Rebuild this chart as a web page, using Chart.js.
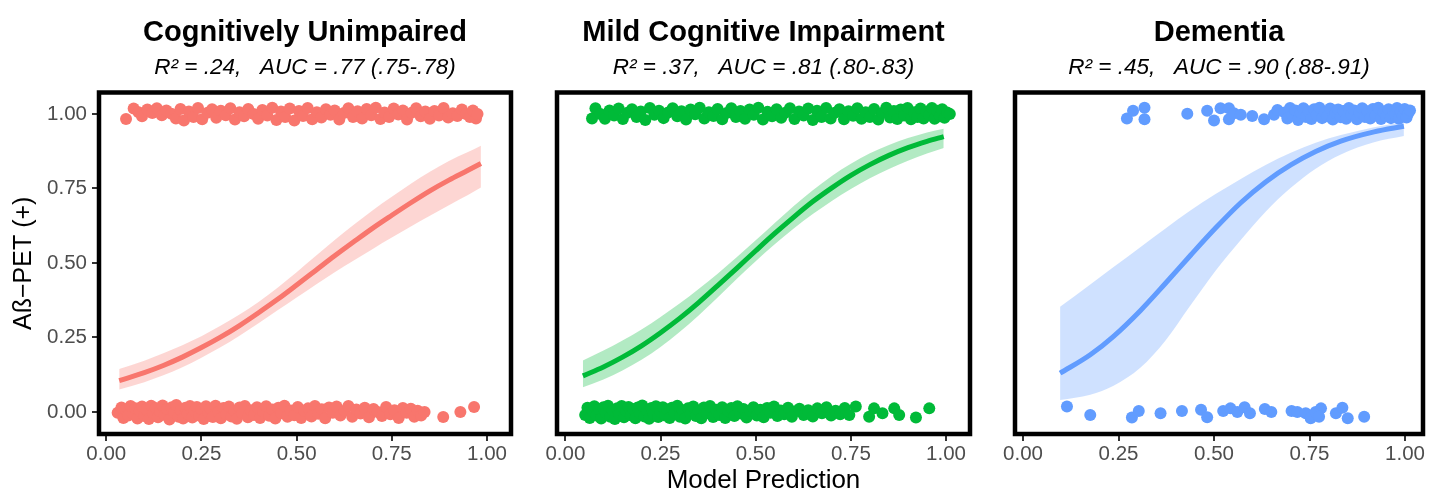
<!DOCTYPE html>
<html lang="en">
<head>
<meta charset="UTF-8">
<title>Model prediction vs amyloid PET</title>
<script src="https://cdn.jsdelivr.net/npm/chart.js"></script>
<style>
  body { margin: 0; background: #fff; }
  #wrap { position: relative; width: 1429px; height: 494px; }
  canvas { position: absolute; top: 0; }
</style>
</head>
<body>
<div id="wrap">
  <canvas id="cu" width="530" height="494" style="left:0"></canvas>
  <canvas id="mci" width="460" height="494" style="left:530px"></canvas>
  <canvas id="dem" width="439" height="494" style="left:990px"></canvas>
</div>

<script>
  const FONT = '"Liberation Sans", Arial, sans-serif';

  const xTicks = [0, 0.25, 0.5, 0.75, 1];
  const yTicks = [0, 0.25, 0.5, 0.75, 1];

  const panelTitles = ['Cognitively Unimpaired', 'Mild Cognitive Impairment', 'Dementia'];
  const panelStats = [
    'R² = .24,   AUC = .77 (.75-.78)',
    'R² = .37,   AUC = .81 (.80-.83)',
    'R² = .45,   AUC = .90 (.88-.91)'
  ];

  // Cognitively unimpaired: fitted curve + 95% band
  const cuFitX  = [0.034, 0.1, 0.15, 0.2, 0.25, 0.3, 0.35, 0.4, 0.45, 0.5, 0.55, 0.6, 0.65, 0.7, 0.75, 0.8, 0.85, 0.9, 0.95, 0.984];
  const cuFit   = [0.105, 0.132, 0.156, 0.184, 0.216, 0.251, 0.290, 0.333, 0.378, 0.426, 0.475, 0.524, 0.571, 0.617, 0.660, 0.702, 0.742, 0.778, 0.811, 0.834];
  const cuUpper = [0.144, 0.172, 0.197, 0.224, 0.254, 0.289, 0.327, 0.369, 0.417, 0.469, 0.523, 0.577, 0.628, 0.677, 0.722, 0.766, 0.806, 0.842, 0.872, 0.893];
  const cuLower = [0.075, 0.100, 0.123, 0.150, 0.182, 0.217, 0.256, 0.298, 0.341, 0.384, 0.427, 0.469, 0.508, 0.547, 0.585, 0.622, 0.658, 0.694, 0.728, 0.753];
  const cuPos = [[0.052,0.983],[0.072,1.018],[0.085,1.006],[0.094,0.992],[0.108,1.015],[0.121,1.003],[0.133,1.019],[0.146,0.996],[0.158,1.012],[0.171,1.001],[0.183,0.985],[0.195,1.017],[0.204,0.978],[0.217,1.008],[0.229,0.99],[0.241,1.02],[0.252,0.982],[0.266,1.004],[0.278,1.016],[0.289,0.987],[0.301,1.011],[0.314,0.996],[0.326,1.019],[0.338,0.981],[0.35,1.006],[0.362,0.992],[0.373,1.017],[0.387,1.0],[0.399,0.984],[0.41,1.013],[0.423,0.995],[0.436,1.021],[0.447,0.98],[0.459,1.008],[0.47,0.99],[0.482,1.018],[0.494,0.978],[0.506,1.01],[0.517,0.993],[0.529,1.02],[0.541,0.982],[0.553,1.006],[0.565,0.988],[0.577,1.016],[0.589,0.997],[0.6,1.012],[0.612,0.981],[0.624,1.003],[0.636,1.019],[0.648,0.99],[0.66,1.009],[0.672,0.985],[0.684,1.017],[0.696,0.996],[0.708,1.021],[0.72,0.983],[0.731,1.005],[0.743,0.99],[0.755,1.018],[0.767,0.998],[0.779,1.012],[0.79,0.981],[0.802,1.004],[0.814,1.019],[0.826,0.992],[0.838,1.008],[0.85,0.984],[0.862,1.01],[0.874,0.995],[0.886,1.02],[0.898,0.988],[0.91,1.002],[0.922,0.993],[0.934,1.015],[0.945,1.0],[0.955,0.99],[0.963,1.012],[0.971,0.985],[0.975,1.0]];
  const cuNeg = [[0.03,-0.003],[0.04,0.015],[0.045,-0.02],[0.052,0.006],[0.058,-0.012],[0.064,0.02],[0.07,-0.005],[0.076,0.012],[0.082,-0.022],[0.088,0.003],[0.094,0.018],[0.1,-0.014],[0.106,0.008],[0.112,-0.024],[0.118,0.021],[0.124,-0.004],[0.13,0.013],[0.136,-0.018],[0.142,0.002],[0.148,0.022],[0.154,-0.01],[0.16,0.009],[0.166,-0.025],[0.172,0.016],[0.178,-0.002],[0.184,0.023],[0.19,-0.016],[0.196,0.005],[0.202,-0.022],[0.208,0.014],[0.214,-0.006],[0.22,0.02],[0.226,-0.019],[0.232,0.003],[0.238,0.017],[0.244,-0.012],[0.25,0.008],[0.256,-0.024],[0.262,0.019],[0.268,-0.003],[0.274,0.011],[0.28,-0.017],[0.287,0.021],[0.294,0.0],[0.301,-0.021],[0.308,0.013],[0.315,-0.008],[0.322,0.018],[0.329,-0.015],[0.336,0.004],[0.343,-0.023],[0.35,0.015],[0.357,-0.004],[0.364,0.02],[0.372,-0.018],[0.38,0.006],[0.388,-0.01],[0.396,0.016],[0.404,-0.02],[0.412,0.002],[0.42,0.019],[0.428,-0.013],[0.436,0.008],[0.444,-0.022],[0.452,0.014],[0.46,-0.004],[0.468,0.021],[0.476,-0.016],[0.485,0.005],[0.494,-0.011],[0.503,0.017],[0.512,-0.02],[0.521,0.003],[0.53,0.012],[0.539,-0.015],[0.548,0.02],[0.557,-0.006],[0.566,0.009],[0.575,-0.021],[0.585,0.015],[0.595,-0.003],[0.605,0.018],[0.615,-0.012],[0.626,0.004],[0.636,0.02],[0.646,-0.016],[0.657,0.008],[0.668,-0.005],[0.679,0.014],[0.69,-0.018],[0.702,0.01],[0.713,0.0],[0.724,-0.014],[0.735,0.017],[0.746,-0.008],[0.757,0.006],[0.768,-0.02],[0.779,0.013],[0.789,-0.003],[0.8,0.011],[0.809,-0.016],[0.818,0.004],[0.827,-0.012],[0.836,0.0],[0.885,-0.017],[0.93,0.0],[0.966,0.017]];

  // Mild cognitive impairment
  const mciFitX  = [0.046, 0.1, 0.15, 0.2, 0.25, 0.3, 0.35, 0.4, 0.45, 0.5, 0.55, 0.6, 0.65, 0.7, 0.75, 0.8, 0.85, 0.9, 0.95, 0.994];
  const mciFit   = [0.121, 0.151, 0.184, 0.222, 0.266, 0.314, 0.367, 0.424, 0.482, 0.541, 0.599, 0.654, 0.706, 0.752, 0.794, 0.830, 0.861, 0.887, 0.908, 0.924];
  const mciUpper = [0.173, 0.206, 0.240, 0.277, 0.319, 0.364, 0.413, 0.464, 0.519, 0.576, 0.634, 0.691, 0.744, 0.792, 0.833, 0.868, 0.896, 0.919, 0.938, 0.950];
  const mciLower = [0.083, 0.109, 0.139, 0.175, 0.218, 0.268, 0.324, 0.384, 0.446, 0.506, 0.563, 0.616, 0.664, 0.708, 0.748, 0.784, 0.815, 0.843, 0.867, 0.886];
  const mciPos = [[0.07,0.985],[0.079,1.019],[0.092,1.0],[0.104,0.984],[0.116,1.012],[0.128,0.995],[0.14,1.018],[0.151,0.983],[0.163,1.004],[0.175,1.016],[0.187,0.99],[0.198,1.008],[0.21,0.98],[0.222,1.02],[0.234,0.997],[0.246,1.011],[0.258,0.986],[0.27,1.005],[0.282,1.019],[0.294,0.992],[0.305,1.009],[0.317,0.981],[0.329,1.015],[0.341,0.999],[0.353,1.021],[0.365,0.985],[0.377,1.006],[0.389,0.993],[0.4,1.017],[0.412,0.982],[0.424,1.003],[0.436,1.019],[0.448,0.99],[0.46,1.01],[0.472,0.984],[0.484,1.015],[0.495,0.997],[0.507,1.021],[0.519,0.981],[0.531,1.007],[0.543,0.992],[0.555,1.016],[0.567,0.987],[0.578,1.004],[0.59,1.019],[0.602,0.983],[0.614,1.008],[0.626,0.995],[0.638,1.018],[0.65,0.98],[0.661,1.011],[0.673,0.99],[0.685,1.02],[0.697,0.985],[0.708,1.004],[0.72,1.016],[0.732,0.982],[0.744,1.009],[0.756,0.994],[0.767,1.019],[0.778,0.984],[0.789,1.006],[0.8,0.99],[0.811,1.017],[0.822,0.981],[0.833,1.003],[0.843,1.021],[0.853,0.988],[0.863,1.01],[0.872,0.983],[0.881,1.015],[0.89,0.995],[0.899,1.02],[0.908,0.982],[0.917,1.006],[0.925,0.99],[0.933,1.018],[0.941,0.985],[0.949,1.008],[0.956,0.996],[0.963,1.02],[0.97,0.984],[0.977,1.011],[0.984,0.992],[0.99,1.016],[0.996,0.987],[1.003,1.005],[1.01,1.0]];
  const mciNeg = [[0.052,-0.01],[0.058,0.014],[0.064,-0.02],[0.07,0.004],[0.076,0.019],[0.082,-0.012],[0.088,0.008],[0.094,-0.022],[0.1,0.016],[0.106,-0.003],[0.112,0.021],[0.118,-0.016],[0.124,0.006],[0.13,-0.024],[0.136,0.012],[0.142,-0.006],[0.148,0.02],[0.154,-0.018],[0.16,0.002],[0.166,0.017],[0.172,-0.011],[0.178,0.009],[0.184,-0.021],[0.19,0.015],[0.196,-0.004],[0.202,0.022],[0.208,-0.015],[0.214,0.005],[0.22,-0.023],[0.226,0.013],[0.232,-0.007],[0.238,0.019],[0.244,-0.017],[0.25,0.001],[0.256,0.016],[0.262,-0.012],[0.268,0.008],[0.274,-0.02],[0.28,0.014],[0.287,-0.002],[0.294,0.021],[0.301,-0.016],[0.308,0.006],[0.315,-0.022],[0.322,0.012],[0.329,-0.006],[0.336,0.018],[0.343,-0.014],[0.35,0.003],[0.357,-0.021],[0.364,0.015],[0.372,-0.004],[0.38,0.02],[0.388,-0.017],[0.396,0.007],[0.404,-0.01],[0.412,0.016],[0.42,-0.02],[0.428,0.002],[0.436,0.013],[0.444,-0.014],[0.452,0.019],[0.46,-0.005],[0.468,0.01],[0.476,-0.019],[0.485,0.004],[0.494,0.016],[0.503,-0.012],[0.512,0.007],[0.521,-0.018],[0.53,0.013],[0.539,-0.003],[0.548,0.018],[0.557,-0.014],[0.566,0.005],[0.575,-0.008],[0.585,0.014],[0.595,-0.016],[0.605,0.002],[0.615,0.011],[0.626,-0.01],[0.638,0.006],[0.65,-0.015],[0.662,0.012],[0.674,-0.004],[0.686,0.016],[0.698,-0.012],[0.71,0.004],[0.722,-0.008],[0.734,0.013],[0.746,-0.01],[0.763,0.018],[0.798,-0.016],[0.811,0.012],[0.833,-0.004],[0.864,0.012],[0.877,-0.01],[0.921,-0.019],[0.956,0.012]];

  // Dementia
  const demFitX  = [0.097, 0.176, 0.237, 0.307, 0.373, 0.438, 0.504, 0.570, 0.635, 0.701, 0.766, 0.832, 0.919, 0.997];
  const demFit   = [0.130, 0.192, 0.254, 0.340, 0.432, 0.525, 0.617, 0.702, 0.772, 0.829, 0.874, 0.909, 0.940, 0.959];
  const demUpper = [0.353, 0.428, 0.486, 0.553, 0.616, 0.676, 0.731, 0.782, 0.829, 0.870, 0.903, 0.929, 0.955, 0.974];
  const demLower = [0.040, 0.058, 0.088, 0.148, 0.240, 0.357, 0.474, 0.577, 0.672, 0.752, 0.816, 0.864, 0.905, 0.926];
  const demPos = [[0.272,0.985],[0.288,1.011],[0.318,1.021],[0.318,0.982],[0.43,1.001],[0.482,1.011],[0.5,0.978],[0.517,1.019],[0.539,1.019],[0.539,0.982],[0.552,1.002],[0.57,0.997],[0.6,0.993],[0.631,0.982],[0.657,0.997],[0.666,1.013],[0.685,1.005],[0.692,0.985],[0.699,1.02],[0.706,0.995],[0.713,1.012],[0.72,0.98],[0.727,1.004],[0.734,1.019],[0.741,0.99],[0.748,1.008],[0.755,0.983],[0.762,1.016],[0.769,0.996],[0.776,1.021],[0.783,0.986],[0.79,1.006],[0.797,0.992],[0.804,1.018],[0.811,0.981],[0.818,1.003],[0.825,1.015],[0.832,0.989],[0.839,1.01],[0.846,0.984],[0.853,1.02],[0.86,0.997],[0.867,1.012],[0.874,0.982],[0.881,1.005],[0.888,1.019],[0.895,0.99],[0.902,1.009],[0.909,0.985],[0.916,1.017],[0.923,0.995],[0.93,1.021],[0.937,0.983],[0.944,1.007],[0.951,0.992],[0.957,1.016],[0.963,0.986],[0.969,1.011],[0.974,0.997],[0.979,1.02],[0.984,0.984],[0.989,1.008],[0.994,0.993],[0.999,1.017],[1.004,0.988],[1.009,1.003],[1.013,1.012]];
  const demNeg = [[0.115,0.018],[0.176,-0.01],[0.285,-0.019],[0.303,0.003],[0.36,-0.004],[0.416,0.003],[0.466,0.007],[0.482,-0.018],[0.524,0.003],[0.543,0.012],[0.561,0.0],[0.58,0.016],[0.594,-0.004],[0.633,0.01],[0.65,0.0],[0.703,0.003],[0.718,0.0],[0.74,-0.004],[0.753,-0.021],[0.766,0.0],[0.78,0.012],[0.775,-0.016],[0.819,-0.004],[0.836,0.014],[0.85,-0.021],[0.893,-0.016]];

  // thick black panel border + heading text above each panel
  const panelDecor = {
    id: 'panelDecor',
    afterDraw(chart, args, opts) {
      const { ctx, chartArea: a } = chart;
      ctx.save();
      ctx.strokeStyle = '#000';
      ctx.lineWidth = 4.5;
      ctx.strokeRect(a.left, a.top, a.right - a.left, a.bottom - a.top);
      const cx = (a.left + a.right) / 2;
      ctx.fillStyle = '#000';
      ctx.textAlign = 'center';
      ctx.textBaseline = 'alphabetic';
      ctx.font = 'bold 29px ' + FONT;
      ctx.fillText(opts.title, cx, 41);
      ctx.font = 'italic 22.5px ' + FONT;
      ctx.fillText(opts.stats, cx, 74);
      ctx.restore();
    }
  };

  const toXY = pts => pts.map(p => ({ x: p[0], y: p[1] }));
  const zipXY = (xs, ys) => xs.map((x, i) => ({ x: x, y: ys[i] }));

  function makePanel(canvasId, idx, p) {
    const tickGrid = { drawOnChartArea: false, tickLength: 7, color: '#333', lineWidth: 2 };
    const tickFont = { family: FONT, size: 20.5 };
    new Chart(document.getElementById(canvasId), {
      type: 'scatter',
      data: {
        datasets: [
          { type: 'line', data: zipXY(p.fitX, p.fit), borderColor: p.color, borderWidth: 5,
            pointRadius: 0, cubicInterpolationMode: 'monotone', fill: false, order: 0 },
          { type: 'line', data: zipXY(p.fitX, p.upper), borderWidth: 0, pointRadius: 0,
            cubicInterpolationMode: 'monotone', fill: '+1', backgroundColor: p.band, order: 1 },
          { type: 'line', data: zipXY(p.fitX, p.lower), borderWidth: 0, pointRadius: 0,
            cubicInterpolationMode: 'monotone', fill: false, order: 1 },
          { data: toXY(p.pos), backgroundColor: p.color, pointRadius: 6, borderWidth: 0, order: 2 },
          { data: toXY(p.neg), backgroundColor: p.color, pointRadius: 6, borderWidth: 0, order: 2 }
        ]
      },
      options: {
        responsive: false,
        animation: false,
        layout: { padding: { top: 92.5, bottom: 0, left: p.padLeft, right: p.padRight } },
        plugins: {
          legend: { display: false },
          tooltip: { enabled: false },
          panelDecor: { title: panelTitles[idx], stats: panelStats[idx] }
        },
        scales: {
          x: {
            type: 'linear', min: p.xMin, max: p.xMax,
            afterBuildTicks: s => { s.ticks = xTicks.map(v => ({ value: v })); },
            afterFit: s => { s.height = 60; },
            grid: tickGrid,
            border: { display: false },
            ticks: { padding: 1, color: '#4d4d4d', font: tickFont, maxRotation: 0, autoSkip: false,
                     callback: v => Number(v).toFixed(2) },
            title: { display: p.xTitle, text: 'Model Prediction', color: '#000',
                     font: { family: FONT, size: 26, lineHeight: 1 }, padding: { top: 0, bottom: 0 } }
          },
          y: {
            type: 'linear', min: -0.074, max: 1.072,
            display: p.yAxis,
            afterBuildTicks: s => { s.ticks = yTicks.map(v => ({ value: v })); },
            afterFit: s => { s.width = p.yAxis ? 99 : 0; },
            grid: tickGrid,
            border: { display: false },
            ticks: { padding: 5, color: '#4d4d4d', font: tickFont, callback: v => Number(v).toFixed(2) },
            title: { display: true, text: 'Aß−PET (+)', color: '#000',
                     font: { family: FONT, size: 25, lineHeight: 1 }, padding: { top: 11.5, bottom: 0 } }
          }
        }
      },
      plugins: [panelDecor]
    });
  }

  makePanel('cu', 0, { color: '#F8766D', band: 'rgba(248,118,109,0.3)',
    fitX: cuFitX, fit: cuFit, upper: cuUpper, lower: cuLower, pos: cuPos, neg: cuNeg,
    xMin: -0.019, xMax: 1.063, yAxis: true, xTitle: false, padLeft: 0, padRight: 19 });
  makePanel('mci', 1, { color: '#00BA38', band: 'rgba(0,186,56,0.3)',
    fitX: mciFitX, fit: mciFit, upper: mciUpper, lower: mciLower, pos: mciPos, neg: mciNeg,
    xMin: -0.022, xMax: 1.063, yAxis: false, xTitle: true, padLeft: 27, padRight: 20 });
  makePanel('dem', 2, { color: '#619CFF', band: 'rgba(97,156,255,0.3)',
    fitX: demFitX, fit: demFit, upper: demUpper, lower: demLower, pos: demPos, neg: demNeg,
    xMin: -0.021, xMax: 1.047, yAxis: false, xTitle: false, padLeft: 25, padRight: 6 });
</script>
</body>
</html>
